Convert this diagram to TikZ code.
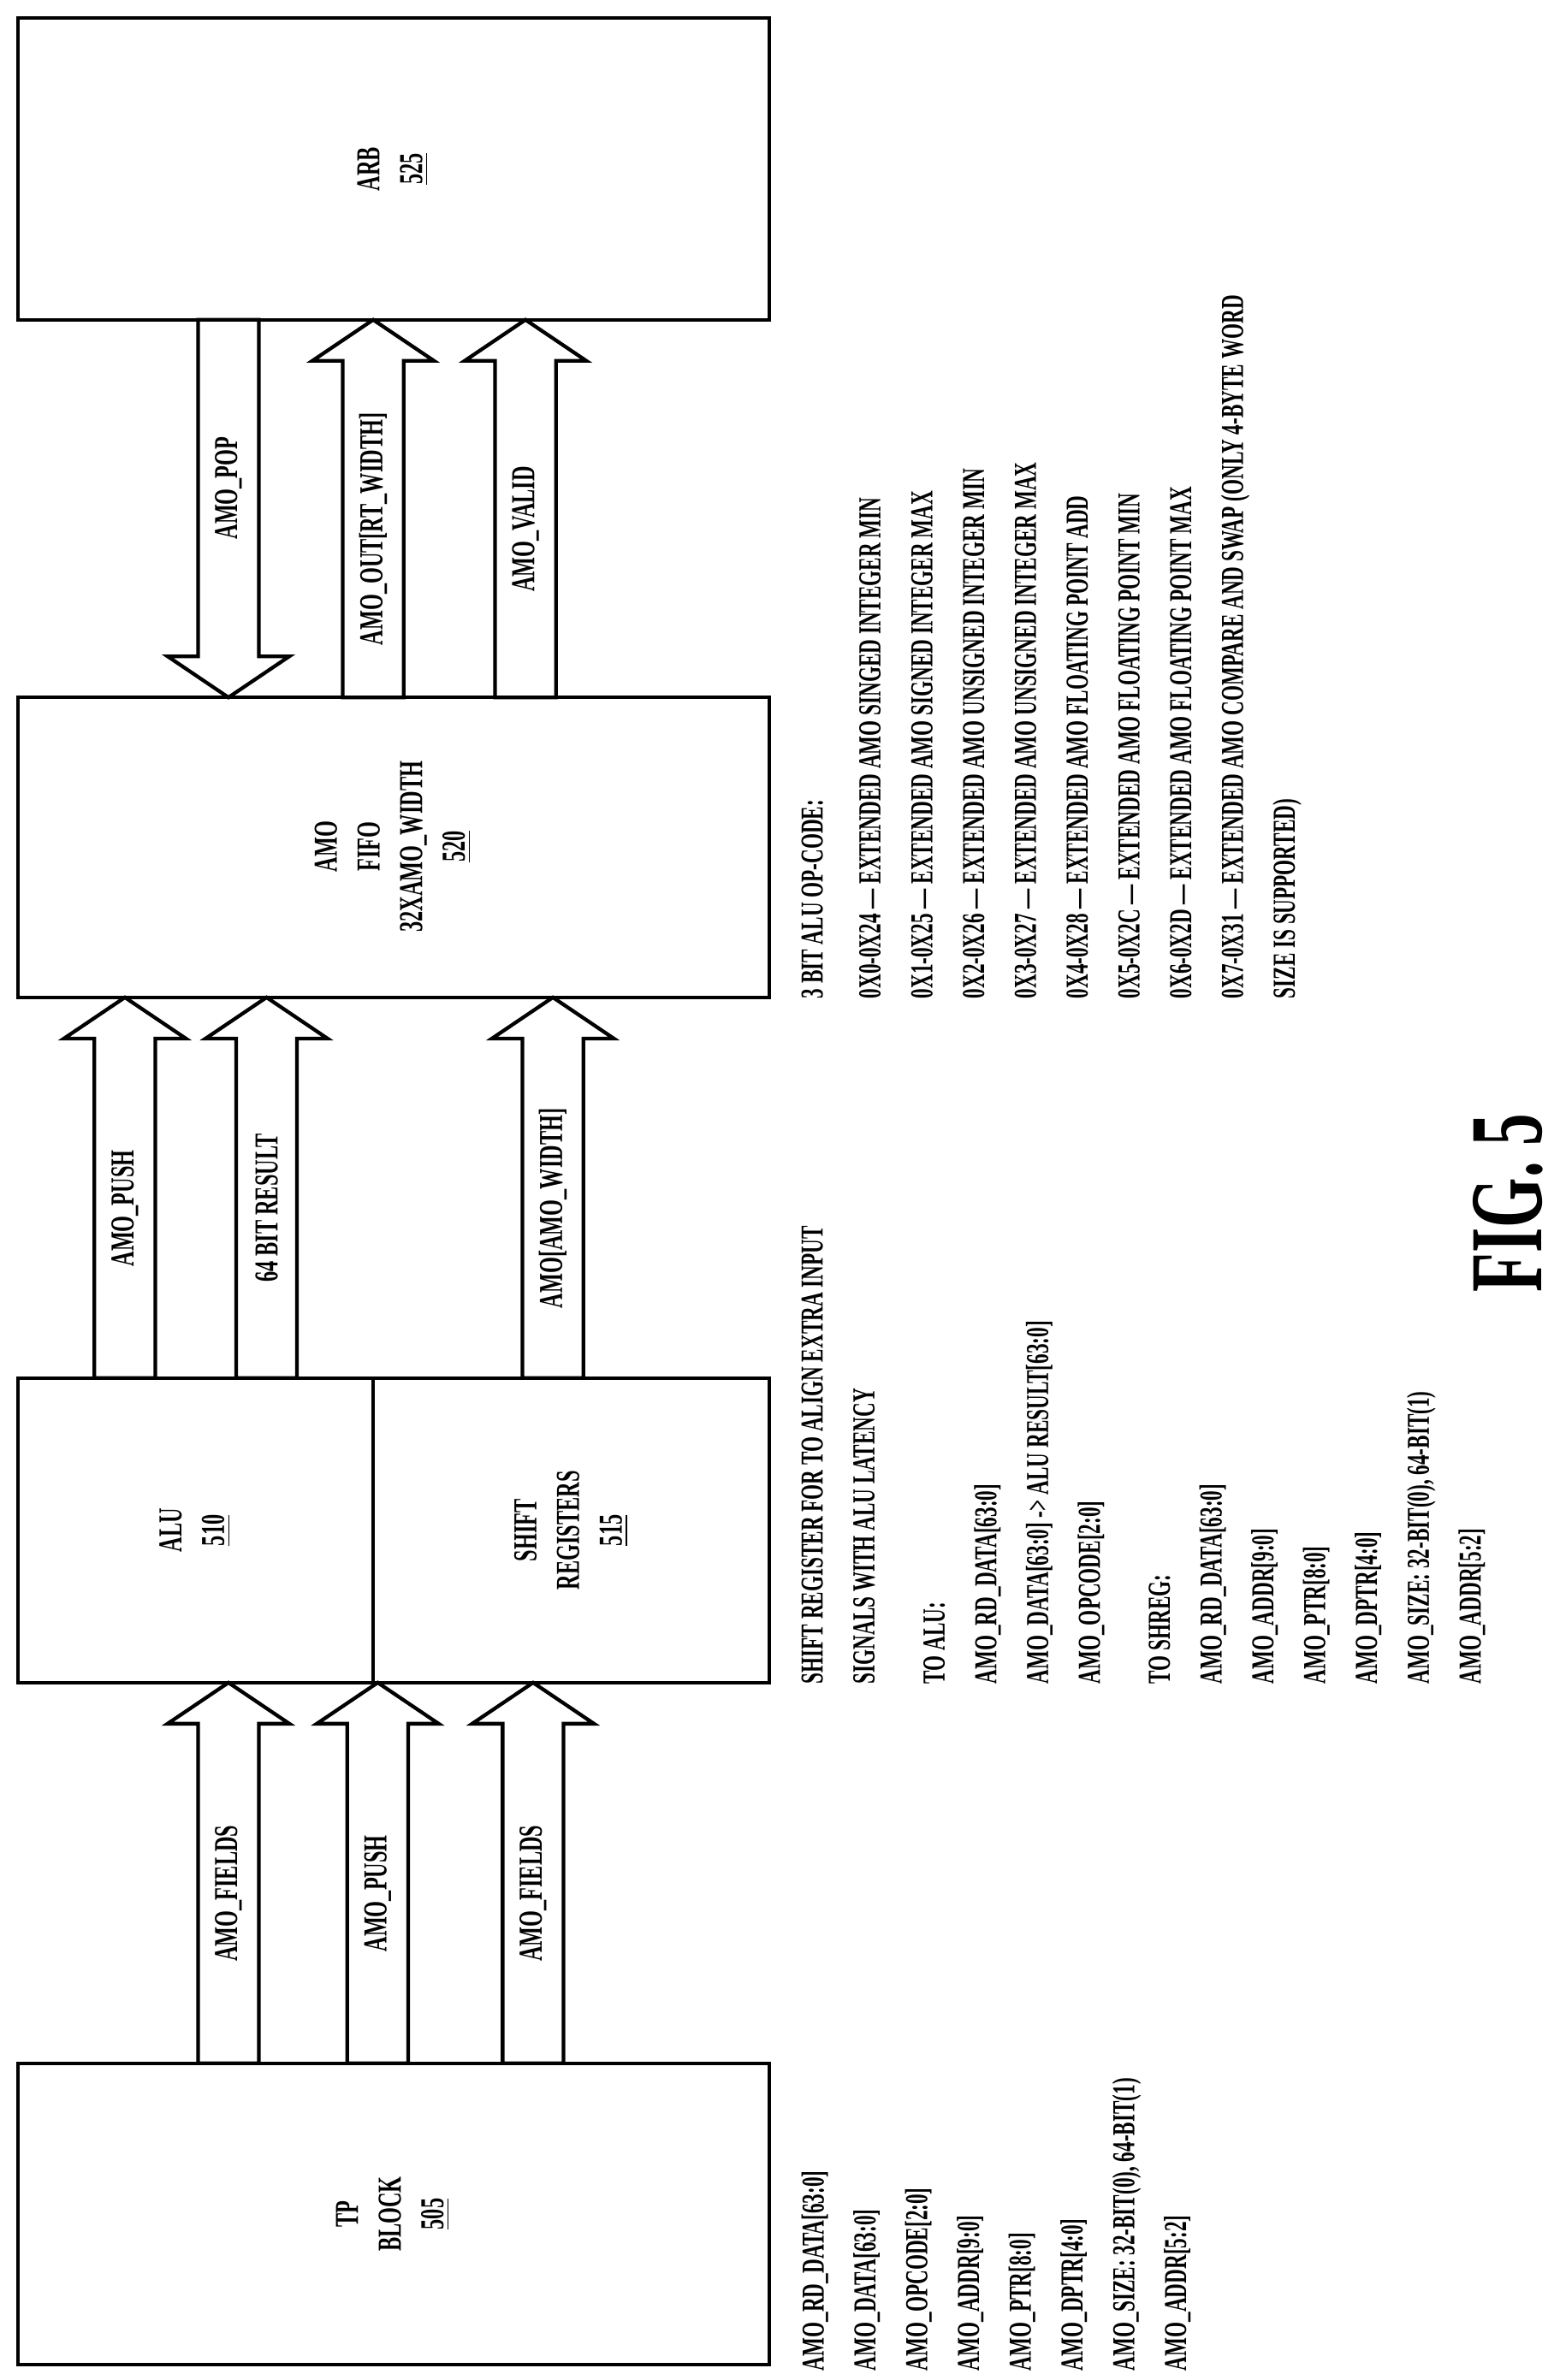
\documentclass[tikz,border=0pt]{standalone}
\usepackage{fontspec}
\setmainfont{Liberation Serif}[FakeStretch=0.68,BoldFont={Liberation Serif Bold},BoldFeatures={FakeStretch=0.62}]
\begin{document}
\begin{tikzpicture}[x=0.5pt,y=-0.5pt,line width=1.2pt,
  box/.style={draw},
  lbl/.style={rotate=90,font=\bfseries\fontsize{11}{12}\selectfont,align=center,inner sep=0pt},
  lst/.style={rotate=90,anchor=north west,font=\bfseries\fontsize{10.5}{17}\selectfont,align=left,inner sep=0pt}]
\useasboundingbox (0,0) rectangle (1024,1563);
\newcommand\blockup[5]{%
  \draw[fill=white] (#1,#3) -- (#1,{#4+27}) -- ({#1-20},{#4+27}) -- ({(#1+#2)/2},#4) -- ({#2+20},{#4+27}) -- (#2,{#4+27}) -- (#2,#3) -- cycle;
  \node[lbl] at ({(#1+#2)/2},{(#3+#4+27)/2}) {#5};}
\newcommand\blockdown[5]{%
  \draw[fill=white] (#1,#3) -- (#1,{#4-27}) -- ({#1-20},{#4-27}) -- ({(#1+#2)/2},#4) -- ({#2+20},{#4-27}) -- (#2,{#4-27}) -- (#2,#3) -- cycle;
  \node[lbl] at ({(#1+#2)/2},{(#3+#4-27)/2}) {#5};}
% boxes
\draw[box] (12,12) rectangle (505,210);
\node[lbl] (arb) at (258,111) {ARB\\[2pt]\underline{525}};
\draw[box] (12,458) rectangle (505,655);
\node[lbl] (fifo) at (258,556) {AMO\\[2pt]FIFO\\[2pt]32XAMO\_WIDTH\\[2pt]\underline{520}};
\draw[box] (12,905) rectangle (245,1105);
\node[lbl] (alu) at (128,1005) {ALU\\[2pt]\underline{510}};
\draw[box] (245,905) rectangle (505,1105);
\node[lbl] (shr) at (375,1005) {SHIFT\\[2pt]REGISTERS\\[2pt]\underline{515}};
\draw[box] (12,1355) rectangle (505,1553);
\node[lbl] (tp) at (258,1454) {TP\\[2pt]BLOCK\\[2pt]\underline{505}};
% arrows ARB-FIFO
\blockdown{130}{170}{210}{458}{AMO\_POP}
\blockup{225}{265}{458}{210}{AMO\_OUT[RT\_WIDTH]}
\blockup{325}{365}{458}{210}{AMO\_VALID}
% FIFO-ALU
\blockup{62}{102}{905}{655}{AMO\_PUSH}
\blockup{155}{195}{905}{655}{64 BIT RESULT}
\blockup{343}{383}{905}{655}{AMO[AMO\_WIDTH]}
% ALU-TP
\blockup{130}{170}{1355}{1105}{AMO\_FIELDS}
\blockup{228}{268}{1355}{1105}{AMO\_PUSH}
\blockup{330}{370}{1355}{1105}{AMO\_FIELDS}
% lists
\node[lst] (l1) at (525,1558) {AMO\_RD\_DATA[63:0]\\AMO\_DATA[63:0]\\AMO\_OPCODE[2:0]\\AMO\_ADDR[9:0]\\AMO\_PTR[8:0]\\AMO\_DPTR[4:0]\\AMO\_SIZE: 32-BIT(0), 64-BIT(1)\\AMO\_ADDR[5:2]};
\node[lst] (l2) at (525,1107) {SHIFT REGISTER FOR TO ALIGN EXTRA INPUT\\SIGNALS WITH ALU LATENCY\\[6pt]TO ALU:\\AMO\_RD\_DATA[63:0]\\AMO\_DATA[63:0] -> ALU RESULT[63:0]\\AMO\_OPCODE[2:0]\\[6pt]TO SHREG:\\AMO\_RD\_DATA[63:0]\\AMO\_ADDR[9:0]\\AMO\_PTR[8:0]\\AMO\_DPTR[4:0]\\AMO\_SIZE: 32-BIT(0), 64-BIT(1)\\AMO\_ADDR[5:2]};
\node[lst] (l3) at (525,657) {3 BIT ALU OP-CODE:\\[2pt]
0X0-0X24 — EXTENDED AMO SINGED INTEGER MIN\\
0X1-0X25 — EXTENDED AMO SIGNED INTEGER MAX\\
0X2-0X26 — EXTENDED AMO UNSIGNED INTEGER MIN\\
0X3-0X27 — EXTENDED AMO UNSIGNED INTEGER MAX\\
0X4-0X28 — EXTENDED AMO FLOATING POINT ADD\\
0X5-0X2C — EXTENDED AMO FLOATING POINT MIN\\
0X6-0X2D — EXTENDED AMO FLOATING POINT MAX\\
0X7-0X31 — EXTENDED AMO COMPARE AND SWAP (ONLY 4-BYTE WORD\\
SIZE IS SUPPORTED)};
\node[rotate=90,font=\bfseries\fontsize{34}{34}\selectfont,inner sep=0pt] (fig) at (990,790) {FIG. 5};
\end{tikzpicture}
\end{document}
